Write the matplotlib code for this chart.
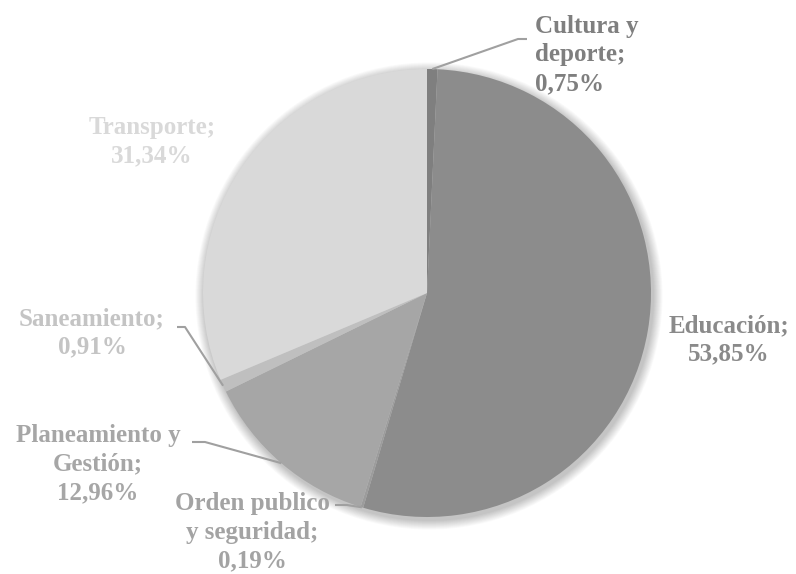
import matplotlib
matplotlib.use("Agg")
import matplotlib.pyplot as plt
import numpy as np
from matplotlib.patches import Circle

categories = ["Cultura y\ndeporte;", "Educación;", "Orden publico\ny seguridad;",
              "Planeamiento y\nGestión;", "Saneamiento;", "Transporte;"]
values = [0.75, 53.85, 0.19, 12.96, 0.91, 31.34]
value_labels = ["0,75%", "53,85%", "0,19%", "12,96%", "0,91%", "31,34%"]

slice_colors = ["#7f7f7f", "#8c8c8c", "#9c9c9c", "#a6a6a6", "#bfbfbf", "#d9d9d9"]
label_colors = ["#7f7f7f", "#8a8a8a", "#a3a3a3", "#a6a6a6", "#c4c4c4", "#d9d9d9"]

plt.rcParams["font.family"] = "serif"
plt.rcParams["font.serif"] = ["Liberation Serif", "DejaVu Serif"]

W, H = 796, 574
fig = plt.figure(figsize=(W / 100, H / 100), dpi=100)
ax = fig.add_axes([0, 0, 1, 1])

cx, cy, R = 427, H - 293, 224

# soft shadow
for k in range(12, 0, -1):
    ax.add_patch(Circle((cx + 2, cy - 3), R + k * 0.8, color="black",
                        alpha=0.02, lw=0, zorder=0))

wedges, _ = ax.pie(values, colors=slice_colors, startangle=90, counterclock=False,
                   center=(cx, cy), radius=R, frame=True,
                   wedgeprops=dict(linewidth=0))
ax.set_xlim(0, W)
ax.set_ylim(0, H)
ax.set_aspect("equal")
ax.axis("off")

# label anchor (x, y from top), alignment
label_pos = [(535, 55, "left"), (729, 340, "center"), (252, 532, "center"),
             (98, 464, "center"), (92, 333, "center"), (152, 142, "center")]
# leader elbows in pixels from top
leaders = {0: [(527, 39), (518, 39)],
           2: [(335, 505), (347, 505)],
           3: [(192, 442), (205, 442)],
           4: [(177, 327), (185, 327)]}

for i, (cat, val) in enumerate(zip(categories, value_labels)):
    x, y, ha = label_pos[i]
    ax.text(x, H - y, cat + "\n" + val, ha=ha, va="center", multialignment=ha,
            fontsize=18, fontweight="bold",
            color=label_colors[i], linespacing=1.3)
    if i in leaders:
        w = wedges[i]
        mid = np.deg2rad((w.theta1 + w.theta2) / 2)
        ex, ey = cx + R * np.cos(mid), cy + R * np.sin(mid)
        (x1, y1), (x2, y2) = leaders[i]
        ax.plot([x1, x2, ex], [H - y1, H - y2, ey], color="#a0a0a0", lw=1.5,
                solid_capstyle="butt", zorder=5)

fig.savefig("out.png", dpi=100)
